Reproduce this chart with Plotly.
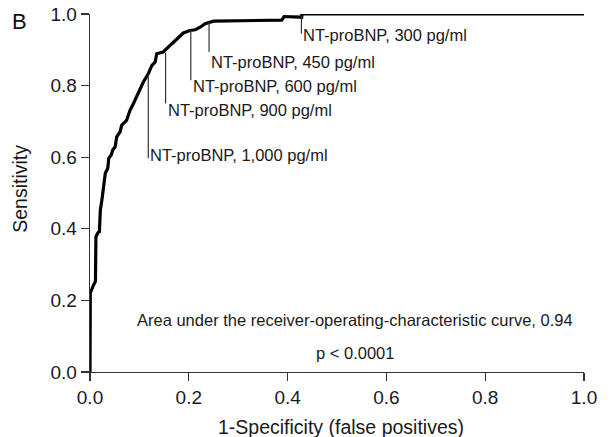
import plotly.graph_objects as go

# ROC curve points (1-specificity, sensitivity)
fpr = [0.0, 0.0, 0.0006, 0.0075, 0.011, 0.012, 0.016, 0.019, 0.021, 0.024, 0.028,
       0.031, 0.036, 0.038, 0.043, 0.046, 0.051, 0.054, 0.061, 0.064, 0.074, 0.081,
       0.088, 0.095, 0.101, 0.108, 0.118, 0.125, 0.132, 0.135, 0.148, 0.162, 0.175,
       0.189, 0.202, 0.213, 0.223, 0.233, 0.25, 0.388, 0.393, 0.4285, 0.429, 1.0]
tpr = [0.0, 0.155, 0.221, 0.244, 0.253, 0.378, 0.389, 0.392, 0.453, 0.48, 0.527,
       0.555, 0.569, 0.597, 0.606, 0.62, 0.629, 0.657, 0.671, 0.689, 0.703, 0.731,
       0.75, 0.773, 0.792, 0.81, 0.833, 0.856, 0.866, 0.889, 0.894, 0.912, 0.931,
       0.947, 0.954, 0.956, 0.963, 0.973, 0.98, 0.983, 0.993, 0.991, 1.0, 1.0]

# Cut-off annotations
cut_labels = ["NT-proBNP, 1,000 pg/ml", "NT-proBNP, 900 pg/ml", "NT-proBNP, 600 pg/ml",
              "NT-proBNP, 450 pg/ml", "NT-proBNP, 300 pg/ml"]
cut_x = [0.118, 0.153, 0.204, 0.241, 0.428]
cut_top = [0.833, 0.892, 0.955, 0.977, 0.995]
cut_bottom = [0.597, 0.75, 0.815, 0.894, 0.945]
cut_text_y = [0.605, 0.731, 0.80, 0.866, 0.94]

x_ticks = [0.0, 0.2, 0.4, 0.6, 0.8, 1.0]
y_ticks = [0.0, 0.2, 0.4, 0.6, 0.8, 1.0]

FONT = "Liberation Sans, Arial, Helvetica, sans-serif"
TXT = "#1a1a1a"

fig = go.Figure()
fig.add_trace(go.Scatter(x=fpr, y=tpr, mode="lines",
                         line=dict(color="black", width=3.2),
                         cliponaxis=False, showlegend=False, hoverinfo="skip"))

shapes = []
annotations = []
for lab, x, yt, yb, ty in zip(cut_labels, cut_x, cut_top, cut_bottom, cut_text_y):
    shapes.append(dict(type="line", xref="x", yref="y", x0=x, x1=x, y0=yt, y1=yb,
                       line=dict(color="#333333", width=1.2)))
    annotations.append(dict(x=x, y=ty, xref="x", yref="y", text=lab, showarrow=False,
                            xanchor="left", yanchor="middle", xshift=0,
                            font=dict(family=FONT, size=16.5, color=TXT)))

annotations.append(dict(x=0.537, y=0.146, xref="x", yref="y",
                        text="Area under the receiver-operating-characteristic curve, 0.94",
                        showarrow=False, xanchor="center", yanchor="middle",
                        font=dict(family=FONT, size=16.5, color=TXT)))
annotations.append(dict(x=0.536, y=0.053, xref="x", yref="y", text="p < 0.0001",
                        showarrow=False, xanchor="center", yanchor="middle",
                        font=dict(family=FONT, size=16.5, color=TXT)))
annotations.append(dict(x=-0.1437, y=0.98, xref="paper", yref="paper", text="B",
                        showarrow=False, xanchor="center", yanchor="middle",
                        font=dict(family=FONT, size=22, color="#111111")))
annotations.append(dict(x=0.508, y=-0.155, xref="paper", yref="paper",
                        text="1-Specificity (false positives)",
                        showarrow=False, xanchor="center", yanchor="middle",
                        font=dict(family=FONT, size=19.5, color=TXT)))
annotations.append(dict(x=-0.1415, y=0.512, xref="paper", yref="paper",
                        text="Sensitivity", textangle=-90,
                        showarrow=False, xanchor="center", yanchor="middle",
                        font=dict(family=FONT, size=19.5, color=TXT)))

fig.update_layout(
    width=616, height=437,
    margin=dict(l=90, r=32, t=14, b=64.5, autoexpand=False),
    paper_bgcolor="white", plot_bgcolor="white",
    shapes=shapes,
    annotations=annotations,
    font=dict(family=FONT, color=TXT),
    xaxis=dict(range=[0, 1], tickvals=x_ticks, ticktext=[f"{v:.1f}" for v in x_ticks],
               showgrid=False, zeroline=False, showline=True, linecolor="#333333",
               linewidth=1.3, ticks="outside", ticklen=8, tickcolor="#333333",
               tickwidth=1.3, automargin=False,
               tickfont=dict(family=FONT, size=19, color=TXT)),
    yaxis=dict(range=[0, 1], tickvals=y_ticks, ticktext=[f"{v:.1f}" for v in y_ticks],
               showgrid=False, zeroline=False, showline=True, linecolor="#333333",
               linewidth=1.3, ticks="outside", ticklen=8, tickcolor="#333333",
               tickwidth=1.3, automargin=False,
               tickfont=dict(family=FONT, size=19, color=TXT)),
)

# remove the browser's default 8px page margin so the figure sits at the window corner
fig.write_html("out.html",
               config={"displayModeBar": False, "staticPlot": True},
               post_script="document.body.style.margin='0';document.body.style.overflow='hidden';")
